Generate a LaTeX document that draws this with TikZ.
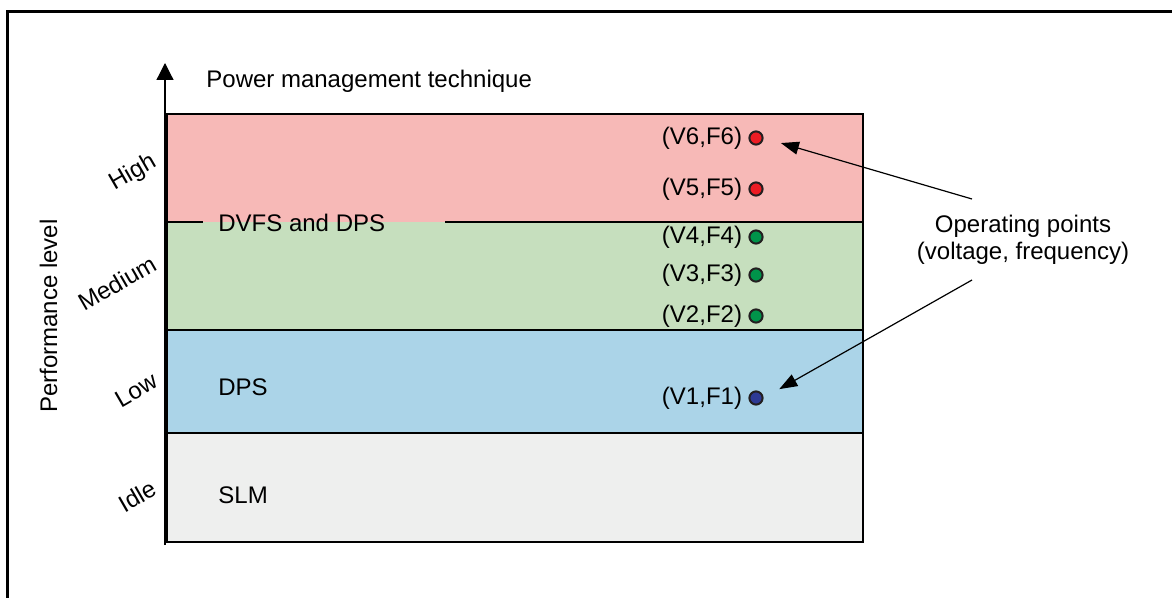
\documentclass[tikz,border=0pt]{standalone}
\usepackage{fontspec}
\setmainfont{Liberation Sans}
\usepackage{tikz}
\usetikzlibrary{arrows.meta}
\usetikzlibrary{positioning}

\definecolor{highfill}{HTML}{F7B9B7}
\definecolor{medfill}{HTML}{C6DFBE}
\definecolor{lowfill}{HTML}{ABD4E8}
\definecolor{idlefill}{HTML}{EEEFEE}
\definecolor{dotred}{HTML}{EC1C24}
\definecolor{dotgreen}{HTML}{00934A}
\definecolor{dotblue}{HTML}{2E3A94}
\definecolor{dotrim}{HTML}{231F20}

\begin{document}
\begin{tikzpicture}
          [x=0.5pt, y=-0.5pt,
           every node/.style={font=\fontsize{12pt}{14.4pt}\selectfont, inner sep=0pt},
           boxline/.style={draw=black, line width=1.4pt},
           oppoint/.style={circle, draw=dotrim, line width=1pt, minimum size=6.6pt},
           ptr/.style={-{Triangle[length=9pt, width=6.5pt]}, line width=0.6pt, shorten >= 9pt},
           level/.style={rotate=30}]
          \useasboundingbox (0,0) rectangle (1172,598);

          % outer frame, runs off the page right and below
          \draw[line width=1.5pt] (7.5,598) -- (7.5,11.3) -- (1172,11.3);

          % bands
          \fill[highfill] (167,114) rectangle (863,222);
          \fill[medfill]  (167,222) rectangle (863,330);
          \fill[lowfill]  (167,330) rectangle (863,433);
          \fill[idlefill] (167,433) rectangle (863,542);

          \draw[boxline] (167,114) rectangle (863,542);
          \draw[boxline] (167,222) -- (203,222);
          \draw[boxline] (445,222) -- (863,222);
          \draw[boxline] (167,330) -- (863,330);
          \draw[boxline] (167,433) -- (863,433);

          % axis
          \draw[line width=0.6pt, -{Triangle[length=8.5pt, width=8.5pt]}] (165,545) -- (165,63);

          \node (tech) [anchor=base west] at (206,88) {Power management technique};
          \node (perf) [rotate=90, anchor=base] at (57,316) {Performance level};

          \node (high) [level] at (133,173) {High};
          \node (med)  [level] at (117,283) {Medium};
          \node (low)  [level] at (136,390) {Low};
          \node (idle) [level] at (137,496) {Idle};

          \node (dvfs) [anchor=base west] at (218,232) {DVFS and DPS};
          \node (dps)  [anchor=base west] at (218,395) {DPS};
          \node (slm)  [anchor=base west] at (218,503) {SLM};

          % operating points
          \foreach \i/\y/\c in {1/398/dotblue, 2/316/dotgreen, 3/275/dotgreen,
                                4/237/dotgreen, 5/189/dotred, 6/138/dotred}
            \node (p\i) [oppoint, fill=\c,
                         label={[label distance=3pt]left:{(V\i,F\i)}}] at (756,\y) {};

          \node (ops) [align=center, font=\fontsize{12pt}{13.5pt}\selectfont]
                at (1023,240) {Operating points\\(voltage, frequency)};

          \coordinate (tail1) at (972,199);
          \coordinate (tail2) at (972,280);

          \draw[ptr] (tail1) -- (p6.east);
          \draw[ptr] (tail2) -- (p1.east);

        \end{tikzpicture}
\end{document}
